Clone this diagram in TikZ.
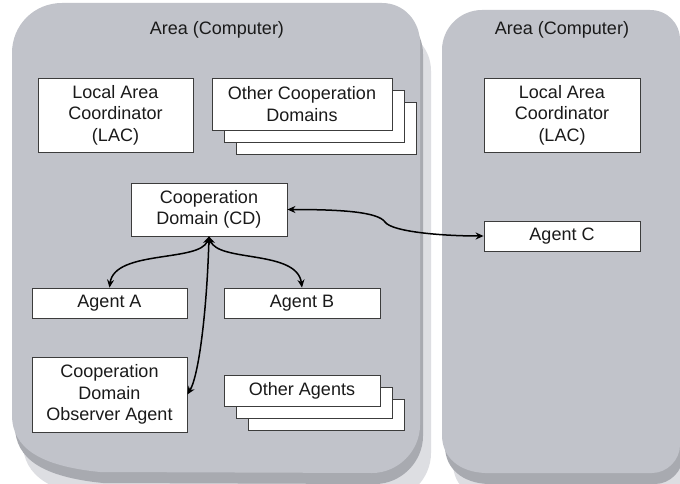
\documentclass[tikz,border=0pt]{standalone}
\usepackage{fontspec}
\setmainfont{Liberation Sans}
\usetikzlibrary{arrows.meta}
\definecolor{areagray}{HTML}{C1C3CA}
\definecolor{bevlight}{HTML}{DDDEE2}
\definecolor{bevdark}{HTML}{A8AAB0}
\definecolor{boxline}{HTML}{3C3C3C}
\definecolor{txt}{HTML}{1A1A1A}
\begin{document}
\begin{tikzpicture}[x=1pt,y=-1pt,
  box/.style={draw=boxline, line width=0.8pt, fill=white, inner sep=0pt, align=center,
    text=txt, font=\fontsize{18}{21.5}\selectfont},
  lbl/.style={font=\fontsize{18}{21.5}\selectfont, inner sep=0pt, text=txt},
  conn/.style={{Stealth[length=8pt,width=7pt]}-{Stealth[length=8pt,width=7pt]}, line width=1.5pt, black}]
\useasboundingbox (0,0) rectangle (680,484);
\clip (0,0) rectangle (680,484);
\fill[white] (0,0) rectangle (680,484);
\def\lareapath{(12,53) .. controls (12,25) and (34,3) .. (62,3) -- (382,3) .. controls (404,3) and (420,21) .. (420,43) -- (420,425) .. controls (420,451) and (398,473) .. (372,473) -- (100,472) .. controls (40,466) and (12,448) .. (12,415) -- cycle}
\def\rareapath{(442,50) .. controls (442,28) and (460,10) .. (482,10) -- (650,10) .. controls (667,10) and (680,23) .. (680,40) -- (680,445) .. controls (680,460) and (667,473) .. (652,473) -- (485,473) .. controls (460,472) and (442,458) .. (442,435) -- cycle}
% left area
\fill[bevlight, shift={(11,28)}] \lareapath;
\fill[bevdark, shift={(3,11)}] \lareapath;
\fill[areagray] \lareapath;
% right area
\fill[bevlight, shift={(11,28)}] \rareapath;
\fill[bevdark, shift={(3,11)}] \rareapath;
\fill[areagray] \rareapath;

\node[lbl] (t1) at (217,30) {Area (Computer)};
\node[lbl] (t2) at (562,30) {Area (Computer)};

\node[box, minimum width=155pt, minimum height=74pt] (lac1) at (115.5,115) {Local Area\\Coordinator\\(LAC)};
\node[box, minimum width=156pt, minimum height=74pt] (lac2) at (562,115) {Local Area\\Coordinator\\(LAC)};

\node[box, minimum width=180pt, minimum height=52pt] (ocd3) at (326,128) {};
\node[box, minimum width=180pt, minimum height=52pt] (ocd2) at (314,116) {};
\node[box, minimum width=180pt, minimum height=52pt] (ocd) at (302,104) {Other Cooperation\\Domains};

\node[box, minimum width=156pt, minimum height=53pt] (cd) at (209,209.5) {Cooperation\\Domain (CD)};

\node[box, minimum width=155pt, minimum height=30pt] (aga) at (109.5,303) {Agent A};
\node[box, minimum width=156pt, minimum height=30pt] (agb) at (302,303) {Agent B};
\node[box, minimum width=156pt, minimum height=30pt] (agc) at (562,236) {Agent C};

\node[box, minimum width=155pt, minimum height=75pt] (cdo) at (109.5,394.5) {Cooperation\\Domain\\Observer Agent};

\node[box, minimum width=156pt, minimum height=31pt] (oa3) at (326,414.5) {};
\node[box, minimum width=156pt, minimum height=31pt] (oa2) at (314,402.5) {};
\node[box, minimum width=156pt, minimum height=31pt] (oa) at (302,390.5) {Other Agents};

\coordinate (kink) at (385,222);

\draw[conn] (cd.south) .. controls +(-9,26) and +(5,-38) .. (aga.north);
\draw[conn] (cd.south) .. controls +(9,26) and +(-5,-38) .. (agb.north);
\draw[conn] (cd.south) .. controls +(-2,70) and +(12,-20) .. (cdo.east);
\draw[conn] (cd.east) .. controls +(55,0) and +(-7,-10) .. (kink) .. controls +(7,10) and +(-40,0) .. (agc.west);
\end{tikzpicture}
\end{document}
